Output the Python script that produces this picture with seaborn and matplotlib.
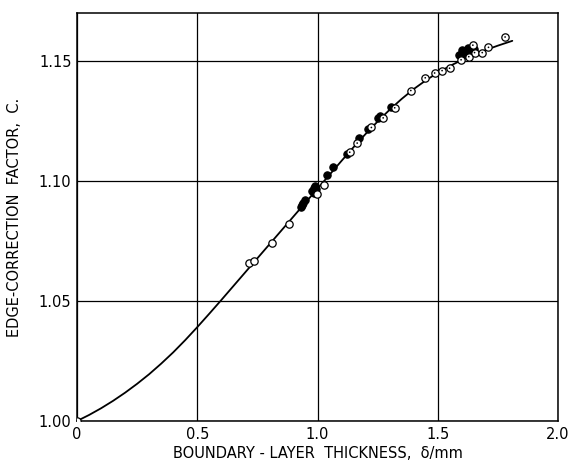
import numpy as np
import pandas as pd
import matplotlib
matplotlib.use("Agg")
import matplotlib.pyplot as plt
import seaborn as sns

# Fitted curve
curve_x = [0.00, 0.05, 0.10, 0.15, 0.20, 0.25, 0.30, 0.35, 0.40, 0.45, 0.50, 0.55, 0.60, 0.65,
           0.70, 0.75, 0.80, 0.85, 0.90, 0.95, 1.00, 1.05, 1.10, 1.15, 1.20, 1.25, 1.30, 1.35,
           1.40, 1.45, 1.50, 1.55, 1.60, 1.65, 1.70, 1.75, 1.81]
curve_y = [1.0000, 1.0025, 1.0053, 1.0084, 1.0118, 1.0155, 1.0195, 1.0239, 1.0286, 1.0337,
           1.0391, 1.0447, 1.0504, 1.0562, 1.0620, 1.0678, 1.0736, 1.0794, 1.0852, 1.0910,
           1.0968, 1.1026, 1.1084, 1.1141, 1.1196, 1.1248, 1.1297, 1.1342, 1.1383, 1.1419,
           1.1451, 1.1479, 1.1504, 1.1526, 1.1546, 1.1564, 1.1584]

# Open circles (plain)
open_x = [0.0, 0.716, 0.734, 0.809, 0.882, 0.997, 1.029]
open_y = [1.0000, 1.0660, 1.0665, 1.0740, 1.0819, 1.0945, 1.0982]

# Open circles with centre dot
dot_x = [1.134, 1.165, 1.224, 1.273, 1.321, 1.388, 1.448, 1.487, 1.518, 1.549,
         1.597, 1.629, 1.653, 1.685, 1.711, 1.646, 1.780]
dot_y = [1.1120, 1.1158, 1.1223, 1.1263, 1.1305, 1.1377, 1.1430, 1.1450, 1.1460, 1.1470,
         1.1505, 1.1518, 1.1535, 1.1535, 1.1557, 1.1566, 1.1600]

# Filled circles
fill_x = [0.931, 0.936, 0.940, 0.948, 0.977, 0.984, 0.985, 0.990, 0.995, 1.038, 1.066,
          1.121, 1.173, 1.210, 1.250, 1.259, 1.307,
          1.590, 1.600, 1.600, 1.610, 1.615, 1.620, 1.625, 1.630, 1.635, 1.650]
fill_y = [1.0893, 1.0900, 1.0907, 1.0920, 1.0959, 1.0970, 1.0950, 1.0980, 1.0965, 1.1027, 1.1058,
          1.1112, 1.1179, 1.1216, 1.1262, 1.1272, 1.1307,
          1.1525, 1.1535, 1.1545, 1.1540, 1.1528, 1.1545, 1.1555, 1.1548, 1.1535, 1.1550]

x_ticks = [0, 0.5, 1.0, 1.5, 2.0]
x_ticklabels = ["0", "0.5", "1.0", "1.5", "2.0"]
y_ticks = [1.00, 1.05, 1.10, 1.15]
y_ticklabels = ["1.00", "1.05", "1.10", "1.15"]

sns.set_style("white")
plt.rcParams['font.family'] = ['DejaVu Sans']

fig = plt.figure(figsize=(5.72, 4.67), dpi=100)
ax = fig.add_axes([77 / 572, 1 - 421 / 467, (558 - 77) / 572, (421 - 13) / 467])

curve = pd.DataFrame({"x": curve_x, "y": curve_y})
sns.lineplot(data=curve, x="x", y="y", ax=ax, color="black", linewidth=1.3, zorder=3)

sns.scatterplot(x=fill_x, y=fill_y, ax=ax, s=28, color="black", edgecolor="black",
                linewidth=0.8, zorder=4)
sns.scatterplot(x=open_x, y=open_y, ax=ax, s=28, color="white", edgecolor="black",
                linewidth=0.9, zorder=5)
sns.scatterplot(x=dot_x, y=dot_y, ax=ax, s=28, color="white", edgecolor="black",
                linewidth=0.9, zorder=5)
sns.scatterplot(x=dot_x, y=dot_y, ax=ax, s=1.5, color="black", edgecolor="none",
                linewidth=0, zorder=6)

ax.set_xlim(0, 2.0)
ax.set_ylim(1.0, 1.170)
ax.set_xticks(x_ticks)
ax.set_xticklabels(x_ticklabels)
ax.set_yticks(y_ticks)
ax.set_yticklabels(y_ticklabels)
ax.grid(True, color="black", linewidth=0.9)
ax.set_axisbelow(True)
ax.tick_params(axis="both", length=0, labelsize=10.5, pad=4, colors="black")
for sp in ax.spines.values():
    sp.set_color("black")
    sp.set_linewidth(1.1)

ax.set_xlabel("BOUNDARY - LAYER  THICKNESS,  \u03b4/mm", fontsize=10.5, labelpad=3,
              color="black")
ax.set_ylabel("EDGE-CORRECTION  FACTOR,  C.", fontsize=10.5, labelpad=12, color="black")

fig.savefig("out.png", dpi=100)
